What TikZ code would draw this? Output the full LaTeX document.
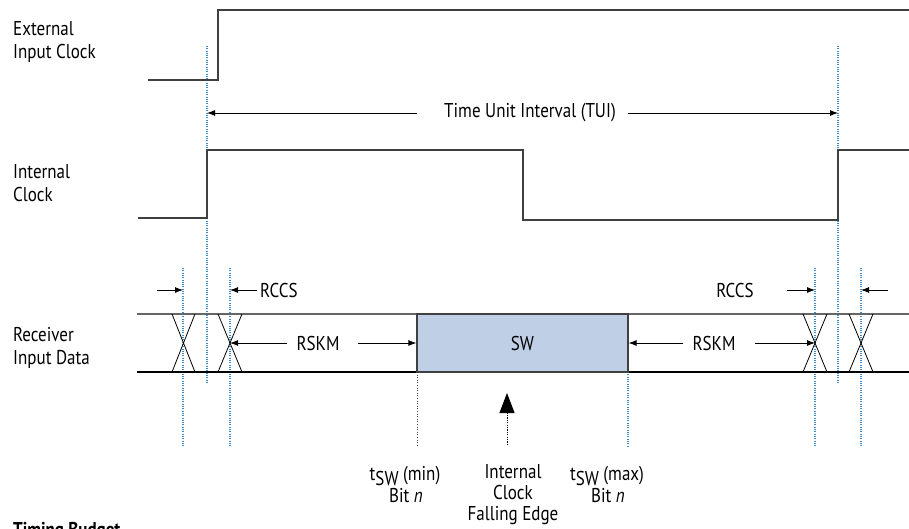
\documentclass[tikz,border=0pt]{standalone}
\usepackage{fontspec}
\setmainfont[FakeStretch=0.85]{PT Sans}
\usetikzlibrary{arrows.meta}
\definecolor{guideblue}{HTML}{3C8AC8}
\definecolor{swfill}{HTML}{BFCFE5}
\newcommand{\lblfont}{\fontsize{20}{23}\selectfont}
\newcommand{\botfont}{\fontsize{20}{21}\selectfont}
\newcommand{\tsw}{t\raisebox{-0.25em}{SW}}
\begin{document}
\begin{tikzpicture}[x=1pt,y=-1pt,
  wave/.style={draw=black!75, line width=1.2pt},
  guide/.style={draw=guideblue, line width=1.2pt, dash pattern=on 1pt off 1.3pt},
  guidek/.style={draw=black!70, line width=0.9pt, dash pattern=on 1pt off 1.6pt},
  dim/.style={draw=black, line width=0.9pt, -{Latex[length=8pt,width=6pt]}},
  lbl/.style={font=\lblfont, align=left, anchor=north west, inner sep=0pt},
  txt/.style={font=\lblfont, inner sep=0pt},
  bot/.style={font=\botfont, align=center, anchor=north, inner sep=0pt},
  botl/.style={font=\botfont, anchor=base, inner sep=0pt},
  xing/.style={draw=black, line width=0.8pt},
  dataline/.style={line width=1.2pt}]
\useasboundingbox (0,0) rectangle (909,529);
\clip (0,0) rectangle (909,529);

% left labels
\node[lbl] (lext) at (13,21) {External\\Input Clock};
\node[lbl] (lint) at (13,164) {Internal\\Clock};
\node[lbl] (lrec) at (13,327) {Receiver\\Input Data};
\node[lbl, font=\fontsize{20}{23}\selectfont\bfseries] (ltb) at (13,522) {Timing Budget};

% guide lines (blue dotted)
\draw[guide] (207,46) -- (207,384);
\draw[guide] (838,46) -- (838,384);
\draw[guide] (183,268) -- (183,446);
\draw[guide] (230,268) -- (230,446);
\draw[guide] (815,268) -- (815,446);
\draw[guide] (861,268) -- (861,446);
\draw[guidek] (417,372) -- (417,446);
\draw[guide] (628,372) -- (628,446);

% external input clock
\draw[wave] (148,80) -- (218,80) -- (218,10) -- (909,10);
% internal clock
\draw[wave] (138,218) -- (207,218) -- (207,150) -- (523,150) -- (523,220) -- (838,220) -- (838,150) -- (909,150);

% TUI
\coordinate (tuiL) at (207,113);
\coordinate (tuiR) at (838,113);
\coordinate (tuiA) at (417,113);
\coordinate (tuiB) at (628,113);
\node[txt] (tui) at (530,113) {Time Unit Interval (TUI)};
\draw[dim] (tuiA) -- (tuiL);
\draw[dim] (tuiB) -- (tuiR);

% receiver data lines
\draw[dataline, draw=black!60] (137,314) -- (909,314);
\draw[dataline, draw=black] (137,372) -- (909,372);
\foreach \a/\b in {172/195, 218/242, 803/827, 849/873}{
  \draw[xing] (\a,314) -- (\b,372);
  \draw[xing] (\b,314) -- (\a,372);
}
% SW box
\node[draw=black!75, fill=swfill, line width=1.1pt, minimum width=211pt, minimum height=58pt, inner sep=0pt, font=\lblfont] (sw) at (522.5,343) {SW};

% RCCS
\coordinate (rc1) at (183,290);
\coordinate (rc1s) at (157,290);
\coordinate (rc2) at (230,290);
\coordinate (rc2s) at (257,290);
\node[txt, anchor=west] (rccsL) at (260,290) {RCCS};
\draw[dim] (rc1s) -- (rc1);
\draw[dim] (rc2s) -- (rc2);
\coordinate (rc3) at (815,290);
\coordinate (rc3s) at (787,290);
\coordinate (rc4) at (861,290);
\coordinate (rc4s) at (888,290);
\node[txt] (rccsR) at (735,290) {RCCS};
\draw[dim] (rc3s) -- (rc3);
\draw[dim] (rc4s) -- (rc4);

% RSKM
\coordinate (rsA) at (230,343);
\coordinate (rsAs) at (287,343);
\coordinate (rsBs) at (358,343);
\node[txt] (rskmL) at (318,343) {RSKM};
\draw[dim] (rsAs) -- (rsA);
\draw[dim] (rsBs) -- (sw.west);
\coordinate (rsC) at (815,343);
\coordinate (rsCs) at (755,343);
\coordinate (rsDs) at (683,343);
\node[txt] (rskmR) at (714,343) {RSKM};
\draw[dim] (rsDs) -- (sw.east);
\draw[dim] (rsCs) -- (rsC);

% falling edge arrow
\coordinate (feB) at (507,445);
\coordinate (feT) at (507,393);
\draw[line width=1pt, dash pattern=on 1.2pt off 1.2pt, -{Triangle[length=20pt,width=15pt]}] (feB) -- (feT);

% bottom labels
\node[botl] (tmin) at (405,480) {\tsw\ (min)};
\node[botl] (tminb) at (406,502) {Bit \textit{n}};
\node[bot] (fe) at (513,464) {Internal\\Clock\\Falling Edge};
\node[botl] (tmax) at (607,480) {\tsw\ (max)};
\node[botl] (tmaxb) at (608,502) {Bit \textit{n}};
\end{tikzpicture}
\end{document}
